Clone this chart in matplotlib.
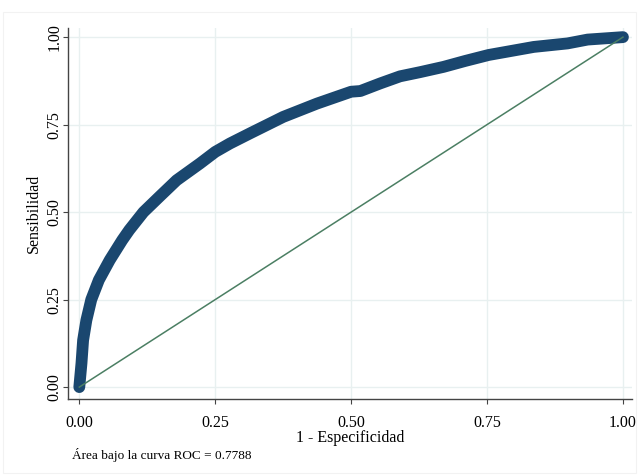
import matplotlib
matplotlib.use("Agg")
import matplotlib.pyplot as plt
from matplotlib.patches import Rectangle

# curva ROC
fpr = [0.0, 0.004, 0.007, 0.013, 0.022, 0.036, 0.056, 0.079, 0.092, 0.118,
       0.148, 0.179, 0.222, 0.25, 0.277, 0.314, 0.375, 0.437, 0.5, 0.517,
       0.554, 0.59, 0.627, 0.67, 0.71, 0.753, 0.836, 0.898, 0.935, 1.0]
tpr = [0.0, 0.068, 0.134, 0.191, 0.25, 0.306, 0.363, 0.42, 0.449, 0.5,
       0.545, 0.591, 0.639, 0.672, 0.696, 0.725, 0.772, 0.81, 0.844, 0.846,
       0.868, 0.888, 0.90, 0.915, 0.932, 0.949, 0.972, 0.982, 0.993, 1.0]
ref = [0.0, 1.0]
ticks = [0.0, 0.25, 0.5, 0.75, 1.0]
tick_labels = ["0.00", "0.25", "0.50", "0.75", "1.00"]
area = 0.7788

plt.rcParams['font.family'] = ['Liberation Serif', 'DejaVu Serif']

fig = plt.figure(figsize=(6.39, 4.75), dpi=100)
fig.patches.append(Rectangle((0.005, 0.005), 0.99, 0.97, transform=fig.transFigure,
                             fill=False, ec='#f2f2f2', lw=0.8))
ax = fig.add_axes([0.1064, 0.16, 0.8826, 0.781])

ax.plot(fpr, tpr, color='#1a476f', lw=8.5, solid_capstyle='round',
        solid_joinstyle='round', zorder=3)
ax.plot(ref, ref, color='#4b7f63', lw=1.1, zorder=4)

ax.set_xlim(-0.0208, 1.0166)
ax.set_ylim(-0.034, 1.026)
ax.set_xticks(ticks)
ax.set_xticklabels(tick_labels)
ax.set_yticks(ticks)
ax.set_yticklabels(tick_labels, rotation=90, va='center')
ax.grid(True, color='#e8f0f0', lw=1.0, zorder=0)
ax.set_axisbelow(True)

for s in ['top', 'right']:
    ax.spines[s].set_visible(False)
for s in ['left', 'bottom']:
    ax.spines[s].set_color('#444444')
    ax.spines[s].set_linewidth(1.0)
ax.tick_params(length=3.6, width=0.8, color='#444444', labelsize=11.5)
ax.tick_params(axis='x', pad=8)
ax.tick_params(axis='y', pad=0.5)

ax.set_xlabel("1 - Especificidad", fontsize=11.5, labelpad=-0.5)
ax.set_ylabel("Sensibilidad", fontsize=11.5, labelpad=3)

fig.text(72 / 639, 1 - 455 / 475, "Área bajo la curva ROC = %.4f" % area,
         fontsize=9.5, va='center', ha='left')

fig.savefig("out.png", dpi=100)
